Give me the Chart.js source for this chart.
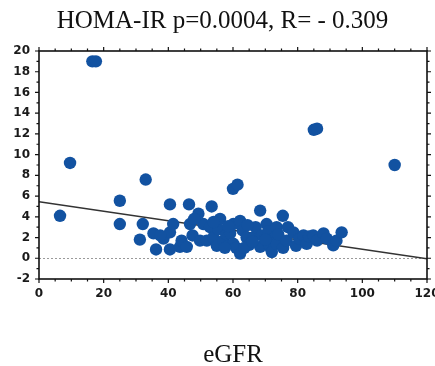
<!DOCTYPE html>
<html>
<head>
<meta charset="utf-8">
<script src="https://cdn.jsdelivr.net/npm/chart.js@4.4.0/dist/chart.umd.min.js"></script>
<style>
  html, body { margin: 0; padding: 0; background: #fff; }
  #wrap { width: 435px; height: 366px; }
</style>
</head>
<body>
<div id="wrap"><canvas id="chart" width="435" height="366"></canvas></div>
<script>
// eGFR (x) vs HOMA-IR (y)
const egfr = [
  6.5, 9.6, 16.5, 17.6, 25, 25, 33, 85, 86, 110,
  31.2, 32.1, 35.4, 36.2, 38.5, 40.5, 40.5, 40.5, 41.5, 43.6,
  44.1, 45.7, 46.4, 46.7, 47.5, 49.3, 49.8, 50.8, 51.9, 52.9,
  53.4, 53.9, 55, 55.5, 56, 57, 58,
  59.1, 60, 61.4, 60.1, 60.1, 61, 62.2, 62.2, 63, 64.2,
  65, 66.3, 67, 68.4, 68.4, 69, 70.4, 71, 71.4, 72,
  72.5, 73.5, 73.5, 74, 75.4, 75.5,
  76.6, 77, 78.7, 79.5, 80.5, 81.8, 82.8, 83.5, 84.8, 86,
  88, 89, 91, 92, 93.6,
  48, 54, 57.5, 63.5, 66, 70, 58.5, 64.5, 37.5
];
const homa = [
  4.1, 9.2, 19.0, 19.0, 5.55, 3.3, 7.6, 12.4, 12.5, 9.0,
  1.8, 3.3, 2.4, 0.85, 1.9, 0.85, 2.5, 5.2, 3.3, 1.1,
  1.7, 1.1, 5.2, 3.3, 2.2, 4.3, 1.7, 3.3, 1.7, 3.0,
  5.0, 2.0, 1.2, 2.8, 3.8, 1.7, 2.3,
  2.4, 6.7, 7.1, 3.3, 1.4, 1.0, 3.6, 0.45, 2.7, 2.0,
  1.3, 2.0, 3.0, 4.6, 1.1, 2.2, 3.3, 2.6, 1.1, 0.6,
  1.9, 3.0, 1.4, 2.3, 4.1, 1.0,
  1.7, 3.0, 2.5, 1.2, 1.9, 2.2, 1.4, 2.1, 2.2, 1.7,
  2.4, 1.9, 1.24, 1.7, 2.5,
  3.8, 3.5, 1.0, 1.0, 1.6, 1.8, 3.1, 3.2, 2.2
];

// regression line end points
const fitX = [0, 120];
const fitY = [5.45, -0.05];

const xTicks = [0, 20, 40, 60, 80, 100, 120];
const yTicks = [-2, 0, 2, 4, 6, 8, 10, 12, 14, 16, 18, 20];

const points = egfr.map((x, i) => ({ x: x, y: homa[i] }));
const fitLine = fitX.map((x, i) => ({ x: x, y: fitY[i] }));

// frame + outward tick marks on all four sides (like the original plot)
const frameTicks = {
  id: 'frameTicks',
  afterDraw(chart) {
    const { ctx, chartArea: a, scales } = chart;
    const xs = scales.x, ys = scales.y;
    ctx.save();
    ctx.strokeStyle = '#111';
    ctx.lineWidth = 1.6;
    ctx.strokeRect(a.left, a.top, a.right - a.left, a.bottom - a.top);
    ctx.lineWidth = 1.2;
    ctx.beginPath();
    for (let v = 0; v <= 120; v += 5) {
      const p = xs.getPixelForValue(v);
      const len = v % 20 === 0 ? 4 : 2.5;
      ctx.moveTo(p, a.bottom); ctx.lineTo(p, a.bottom + len);
      ctx.moveTo(p, a.top); ctx.lineTo(p, a.top - len);
    }
    for (let v = -2; v <= 20; v += 1) {
      const p = ys.getPixelForValue(v);
      const len = v % 2 === 0 ? 4 : 2.5;
      ctx.moveTo(a.left, p); ctx.lineTo(a.left - len, p);
      ctx.moveTo(a.right, p); ctx.lineTo(a.right + len, p);
    }
    ctx.stroke();
    ctx.restore();
  }
};

new Chart(document.getElementById('chart'), {
  type: 'scatter',
  data: {
    datasets: [
      {
        type: 'scatter',
        data: points,
        backgroundColor: '#1252a1',
        borderWidth: 0,
        pointRadius: 6.2,
        order: 1
      },
      {
        type: 'line',
        data: fitLine,
        borderColor: '#333',
        borderWidth: 1.4,
        pointRadius: 0,
        fill: false,
        order: 2
      }
    ]
  },
  options: {
    responsive: false,
    animation: false,
    layout: { padding: { left: 10, right: 0, top: 0, bottom: 0 } },
    plugins: {
      legend: { display: false },
      tooltip: { enabled: false },
      title: {
        display: true,
        text: 'HOMA-IR p=0.0004, R= - 0.309',
        color: '#111',
        font: { family: '"Liberation Serif", "DejaVu Serif", serif', size: 25, weight: 'normal', lineHeight: 1.2 },
        padding: { top: 6, bottom: 15 }
      }
    },
    scales: {
      x: {
        type: 'linear',
        min: 0, max: 120,
        afterBuildTicks: s => { s.ticks = xTicks.map(v => ({ value: v })); },
        afterFit: s => { s.height = 87; s.paddingRight = 8; },
        grid: { display: false, drawTicks: false },
        border: { display: false },
        ticks: {
          color: '#1a1a1a',
          padding: 8,
          maxRotation: 0,
          font: { family: '"DejaVu Sans", sans-serif', size: 12, weight: 'bold' }
        },
        title: {
          display: true,
          text: 'eGFR',
          color: '#111',
          font: { family: '"Liberation Serif", "DejaVu Serif", serif', size: 25, weight: 'normal', lineHeight: 1 },
          padding: { top: 0, bottom: -2 }
        }
      },
      y: {
        type: 'linear',
        min: -2, max: 20,
        afterBuildTicks: s => { s.ticks = yTicks.map(v => ({ value: v })); },
        afterFit: s => { s.width = 29; },
        grid: {
          drawTicks: false,
          color: c => (c.tick && c.tick.value === 0 ? '#9a9a9a' : 'rgba(0,0,0,0)'),
          lineWidth: 1
        },
        border: { display: false, dash: [2, 2] },
        ticks: {
          color: '#1a1a1a',
          padding: 9,
          font: { family: '"DejaVu Sans", sans-serif', size: 12, weight: 'bold' }
        }
      }
    }
  },
  plugins: [frameTicks]
});
</script>
</body>
</html>
